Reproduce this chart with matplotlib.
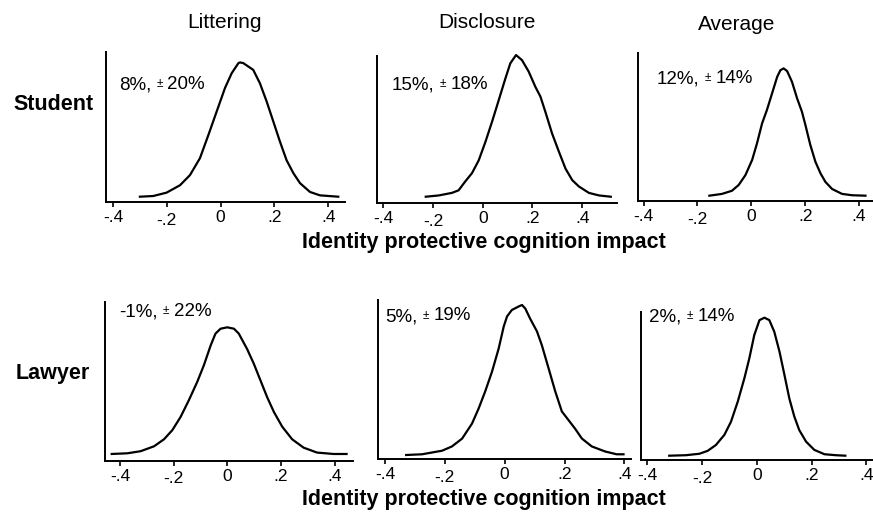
import matplotlib
matplotlib.use('Agg')
import matplotlib.pyplot as plt
from matplotlib.transforms import ScaledTranslation

plt.rcParams['font.family'] = ['Liberation Sans', 'DejaVu Sans']

# ---- data (density curves) ----
columns = ['Littering', 'Disclosure', 'Average']
rows = ['Student', 'Lawyer']
xticks = [-0.4, -0.2, 0, 0.2, 0.4]
xticklabels = ['-.4', '-.2', '0', '.2', '.4']

x_student_litter = [-0.300, -0.251, -0.201, -0.151, -0.114, -0.077, -0.046, -0.015, 0.016, 0.041,
                    0.066, 0.072, 0.084, 0.121, 0.146, 0.171, 0.196, 0.220, 0.245, 0.270,
                    0.295, 0.332, 0.369, 0.437]
d_student_litter = [0, 0.01, 0.06, 0.17, 0.32, 0.57, 0.91, 1.26, 1.61, 1.83,
                    1.98, 1.99, 1.98, 1.88, 1.68, 1.41, 1.11, 0.82, 0.54, 0.35,
                    0.20, 0.07, 0.02, 0]

x_student_discl = [-0.229, -0.177, -0.124, -0.097, -0.070, -0.043, -0.016, 0.011, 0.038, 0.065,
                   0.091, 0.111, 0.134, 0.158, 0.185, 0.212, 0.232, 0.252, 0.279, 0.306,
                   0.333, 0.360, 0.387, 0.427, 0.468, 0.515]
d_student_discl = [0, 0.02, 0.06, 0.10, 0.24, 0.37, 0.57, 0.86, 1.18, 1.52,
                   1.85, 2.09, 2.22, 2.14, 1.96, 1.72, 1.57, 1.33, 0.99, 0.71,
                   0.44, 0.26, 0.16, 0.06, 0.02, 0]

x_student_avg = [-0.156, -0.109, -0.072, -0.047, -0.022, 0.003, 0.021, 0.040, 0.058, 0.077,
                 0.096, 0.108, 0.120, 0.133, 0.151, 0.170, 0.188, 0.201, 0.219, 0.238,
                 0.257, 0.275, 0.300, 0.337, 0.374, 0.424]
d_student_avg = [0, 0.04, 0.11, 0.24, 0.46, 0.80, 1.17, 1.62, 1.92, 2.29,
                 2.66, 2.81, 2.85, 2.79, 2.55, 2.18, 1.88, 1.58, 1.14, 0.76,
                 0.50, 0.31, 0.15, 0.04, 0.01, 0]

x_lawyer_litter = [-0.431, -0.372, -0.323, -0.273, -0.236, -0.205, -0.174, -0.143, -0.112, -0.087,
                   -0.062, -0.044, -0.025, 0.000, 0.025, 0.043, 0.074, 0.099, 0.124, 0.149,
                   0.174, 0.205, 0.242, 0.285, 0.335, 0.397, 0.445]
d_lawyer_litter = [0, 0.01, 0.04, 0.11, 0.21, 0.34, 0.53, 0.77, 1.03, 1.27,
                   1.55, 1.72, 1.79, 1.81, 1.79, 1.72, 1.50, 1.29, 1.05, 0.81,
                   0.60, 0.39, 0.21, 0.09, 0.02, 0, 0]

x_lawyer_discl = [-0.329, -0.276, -0.209, -0.176, -0.142, -0.109, -0.087, -0.065, -0.042, -0.020,
                  -0.003, 0.008, 0.024, 0.047, 0.058, 0.069, 0.085, 0.108, 0.124, 0.147,
                  0.169, 0.191, 0.213, 0.235, 0.258, 0.291, 0.335, 0.374, 0.397]
d_lawyer_discl = [0, 0.01, 0.06, 0.12, 0.23, 0.44, 0.65, 0.89, 1.17, 1.49,
                  1.80, 1.94, 2.03, 2.08, 2.10, 2.05, 1.91, 1.73, 1.54, 1.21,
                  0.89, 0.61, 0.49, 0.37, 0.23, 0.12, 0.05, 0.01, 0.01]

x_lawyer_avg = [-0.319, -0.258, -0.209, -0.179, -0.149, -0.118, -0.094, -0.069, -0.045, -0.027,
                -0.009, 0.010, 0.028, 0.046, 0.064, 0.083, 0.101, 0.119, 0.137, 0.155,
                0.180, 0.210, 0.247, 0.289, 0.323]
d_lawyer_avg = [0, 0.01, 0.04, 0.10, 0.22, 0.43, 0.70, 1.12, 1.60, 2.01,
                2.49, 2.80, 2.85, 2.80, 2.56, 2.15, 1.67, 1.18, 0.81, 0.53,
                0.29, 0.12, 0.03, 0.01, 0]

impact_mean = [[8, 15, 12], [-1, 5, 2]]
impact_ci = [[20, 18, 14], [22, 19, 14]]

curves = [[(x_student_litter, d_student_litter), (x_student_discl, d_student_discl), (x_student_avg, d_student_avg)],
          [(x_lawyer_litter, d_lawyer_litter), (x_lawyer_discl, d_lawyer_discl), (x_lawyer_avg, d_lawyer_avg)]]

# ---- layout (pixels of the 873x513 canvas) ----
W, H = 873, 513
fig = plt.figure(figsize=(W / 100, H / 100), dpi=100)

boxes = [[(106, 51.7, 345, 202.3), (377, 56, 617, 203.3), (638, 53.3, 873, 201)],
         [(105, 301.7, 353, 460.7), (378, 300, 631, 459), (641, 311.7, 873, 460)]]
xlims = [[(-0.426, 0.462), (-0.425, 0.540), (-0.421, 0.452)],
         [(-0.456, 0.469), (-0.423, 0.422), (-0.422, 0.424)]]
ylims = [[(-0.083, 2.149), (-0.103, 2.205), (-0.119, 3.188)],
         [(-0.096, 2.176), (-0.056, 2.17), (-0.089, 2.974)]]
note_pos = [[(119, 85), (392, 85), (657, 79)],
            [(119, 312), (385, 316.5), (649, 317)]]


def fx(px):
    return px / W


def fy(py):
    return 1 - py / H


for r in range(2):
    for c in range(3):
        x0, y0, x1, y1 = boxes[r][c]
        ax = fig.add_axes([fx(x0), fy(y1), (x1 - x0) / W, (y1 - y0) / H])
        xs, ds = curves[r][c]
        ax.plot(xs, ds, color='black', lw=1.6, clip_on=False, solid_joinstyle='round')
        ax.set_xlim(*xlims[r][c])
        ax.set_ylim(*ylims[r][c])
        ax.set_yticks([])
        ax.set_xticks(xticks)
        ax.set_xticklabels(xticklabels)
        ax.tick_params(axis='x', direction='out', length=3.3, width=1.2, pad=2.5, labelsize=12.5)
        for s in ['top', 'right']:
            ax.spines[s].set_visible(False)
        for s in ['left', 'bottom']:
            ax.spines[s].set_linewidth(1.4)
        ax.patch.set_visible(False)
        # the "-.2" label sits a little lower in the original
        lab = ax.get_xticklabels()[1]
        lab.set_transform(lab.get_transform() + ScaledTranslation(0, -2.5 / 100, fig.dpi_scale_trans))

        # annotation "m%, ± s%"
        nx, ny = note_pos[r][c]
        t1 = ax.annotate(f"{impact_mean[r][c]}%,", xy=(fx(nx), fy(ny)), xycoords='figure fraction',
                         ha='left', va='center', fontsize=13.5, annotation_clip=False)
        t2 = ax.annotate("±", xy=(1, 0.55), xycoords=t1, xytext=(4, 0), textcoords='offset points',
                         ha='left', va='center', fontsize=8.5, annotation_clip=False)
        ax.annotate(f"{impact_ci[r][c]}%", xy=(1, 0.5), xycoords=t2, xytext=(3, 0),
                    textcoords='offset points', ha='left', va='center', fontsize=13.5,
                    annotation_clip=False)

# column titles
for title, (px, py) in zip(columns, [(225, 23), (487, 22), (737, 25)]):
    fig.text(fx(px), fy(py), title, ha='center', va='center', fontsize=15)

# row labels
for label, (px, py) in zip(rows, [(54, 104), (53, 373)]):
    fig.text(fx(px), fy(py), label, ha='center', va='center', fontsize=15.5, fontweight='bold')

# x axis titles
for py in [243, 500]:
    fig.text(fx(484), fy(py), 'Identity protective cognition impact', ha='center', va='center',
             fontsize=15.5, fontweight='bold')

fig.savefig('out.png', dpi=100)
